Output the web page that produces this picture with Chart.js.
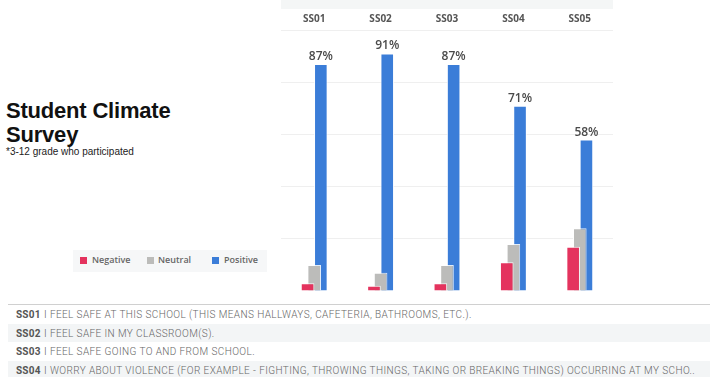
<!DOCTYPE html>
<html>
<head>
<meta charset="utf-8">
<script src="https://cdn.jsdelivr.net/npm/chart.js@4"></script>
<style>
  body { margin: 0; width: 718px; height: 377px; background: #fff; position: relative; overflow: hidden; font-family: 'Liberation Sans', Arial, sans-serif; }
  #title { position: absolute; left: 6px; top: 99px; font-weight: bold; font-size: 22px; line-height: 24px; color: #111; letter-spacing: -0.2px; }
  #sub { position: absolute; left: 6px; top: 146px; font-size: 10px; color: #222; }
  #legend { position: absolute; left: 73px; top: 250px; width: 194px; height: 22px; background: #f6f7f8; font-family: 'Open Sans', sans-serif; font-size: 9px; font-weight: 600; color: #666; }
  #legend span.box { position: absolute; top: 7px; width: 7px; height: 7px; }
  #legend span.txt { position: absolute; top: 4px; line-height: 12px; }
  #wrap { position: absolute; left: 281px; top: 0; width: 332px; height: 291px; }
  #table { position: absolute; left: 8px; top: 304px; width: 702px; border-top: 1px solid #d0d0d0; font-family: Roboto, sans-serif; font-size: 10px; color: #666; }
  .row { height: 18.6px; line-height: 20px; white-space: nowrap; overflow: hidden; position: relative; }
  .row.alt { background: #f3f5f6; }
  .row b { position: absolute; left: 8px; font-weight: bold; color: #555; letter-spacing: 0.2px; }
  .row span { position: absolute; left: 36px; letter-spacing: 0.4px; font-weight: 300; }
</style>
</head>
<body>
<div id="title">Student Climate<br>Survey</div>
<div id="sub">*3-12 grade who participated</div>
<div id="legend"></div>
<div id="wrap"><canvas id="chart"></canvas></div>
<div id="table"></div>
<script>
const categories = ['SS01', 'SS02', 'SS03', 'SS04', 'SS05']
const negative = [3, 2, 3, 11, 17]
const neutral = [10, 7, 10, 18, 24]
const positive = [87, 91, 87, 71, 58]
const seriesNames = ['Negative', 'Neutral', 'Positive']
const questions = [
  'I FEEL SAFE AT THIS SCHOOL (THIS MEANS HALLWAYS, CAFETERIA, BATHROOMS, ETC.).',
  'I FEEL SAFE IN MY CLASSROOM(S).',
  'I FEEL SAFE GOING TO AND FROM SCHOOL.',
  'I WORRY ABOUT VIOLENCE (FOR EXAMPLE - FIGHTING, THROWING THINGS, TAKING OR BREAKING THINGS) OCCURRING AT MY SCHO..'
]

const negColor = '#e4335e'
const neuColor = '#bcbcba'
const posColor = '#3b7dd8'
const colors = [negColor, neuColor, posColor]

// legend
const legend = document.getElementById('legend')
const legendX = [[7, 19], [74, 85], [139, 151]]
seriesNames.forEach((name, i) => {
  legend.innerHTML += '<span class="box" style="left:' + legendX[i][0] + 'px;background:' + colors[i] + '"></span>' +
    '<span class="txt" style="left:' + legendX[i][1] + 'px">' + name + '</span>'
})

// question table
const table = document.getElementById('table')
questions.forEach((q, i) => {
  table.innerHTML += '<div class="row' + (i % 2 ? ' alt' : '') + '"><b>' + categories[i] + '</b><span>' + q + '</span></div>'
})

const extras = {
  id: 'extras',
  beforeDraw(chart) {
    // grey strip above the header
    const ctx = chart.ctx
    ctx.save()
    ctx.fillStyle = '#f4f6f6'
    ctx.fillRect(0, 0, chart.width, 9)
    ctx.restore()
  },
  afterDraw(chart) {
    // percent labels on the Positive bars
    const ctx = chart.ctx
    const meta = chart.getDatasetMeta(2)
    ctx.save()
    ctx.fillStyle = '#4a4a4a'
    ctx.font = '600 12px "Open Sans"'
    ctx.textAlign = 'center'
    ctx.textBaseline = 'alphabetic'
    meta.data.forEach((bar, i) => {
      ctx.fillText(positive[i] + '%', bar.x, bar.y - 4)
    })
    ctx.restore()
  }
}

new Chart(document.getElementById('chart'), {
  type: 'bar',
  data: {
    labels: categories,
    datasets: [negative, neutral, positive].map((d, i) => ({
      label: seriesNames[i],
      data: d,
      backgroundColor: colors[i],
      borderColor: 'rgba(255,255,255,0.85)',
      borderWidth: 1,
      categoryPercentage: 0.3,
      barPercentage: 2.05
    }))
  },
  options: {
    responsive: true,
    maintainAspectRatio: false,
    animation: false,
    layout: { padding: 0 },
    plugins: {
      legend: { display: false },
      tooltip: { enabled: false }
    },
    scales: {
      x: {
        position: 'top',
        grid: { display: false, drawTicks: false },
        border: { display: false },
        ticks: { color: '#555', font: { family: 'Open Sans', size: 10, weight: 'bold' }, padding: 5 },
        afterFit: (scale) => { scale.height = 30 }
      },
      y: {
        position: 'right',
        min: 0,
        max: 100,
        ticks: { display: false, stepSize: 20 },
        grid: {
          drawTicks: false,
          color: (c) => c.tick && c.tick.value === 0 ? '#c6cbcb' : '#efefef'
        },
        border: { display: true, color: '#e4e4e4' },
        afterFit: (scale) => { scale.width = 0 }
      }
    }
  },
  plugins: [extras]
})
</script>
</body>
</html>
